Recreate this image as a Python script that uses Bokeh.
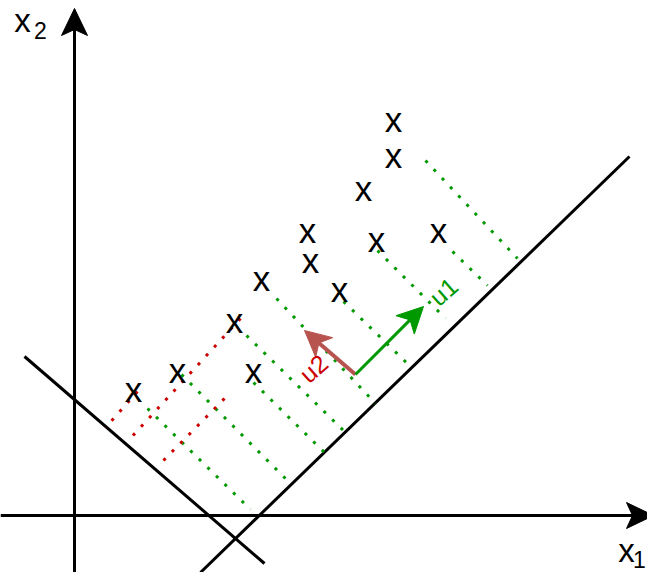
import numpy as np
from bokeh.plotting import figure
from bokeh.models import Range1d
from bokeh.core.properties import value
from bokeh.embed import file_html
from bokeh.resources import INLINE

# ---- data (diagram coordinates, y grows downward) ----
pts_x = [133, 177, 234, 253, 261, 307, 310, 339, 363, 376, 393, 393, 438]
pts_y = [392, 373, 323, 373, 281, 233, 263, 292, 191, 242, 158, 122, 233]

# principal axis line (u1) and perpendicular line (u2)
line1_x = [200, 629]
line1_y = [572, 156]
line2_x = [24, 264]
line2_y = [356, 563]

# coordinate axes
xaxis_x = [0, 640]
xaxis_y = [515, 515]
yaxis_x = [74, 74]
yaxis_y = [590, 20]
xaxis_tip = (653, 515)
yaxis_tip = (74, 8)

# projections onto u1 line (green) and u2 line (red): start -> end
green_x0 = [147, 181, 246, 253, 276, 343, 377, 452, 425]
green_y0 = [408, 374, 335, 382, 298, 301, 250, 251, 160]
green_x1 = [250, 291, 343, 325, 375, 412, 445, 487, 517]
green_y1 = [509, 484, 430, 453, 403, 368, 318, 285, 258]

red_x0 = [137, 240, 224]
red_y0 = [391, 318, 398]
red_x1 = [105, 127, 157]
red_y1 = [427, 441, 466]

# basis vectors
origin = (355, 374)
u1_tip = (423, 306)
u2_tip = (304, 330)

labels_u = ["u1", "u2"]
labels_u_x = [443, 313]
labels_u_y = [291, 368]

# axis labels: main letter and subscript (glyph centres)
axis_lab = ["x", "x"]
axis_lab_x = [22, 626]
axis_lab_y = [23, 553]
axis_sub = ["2", "1"]
axis_sub_x = [40, 639]
axis_sub_y = [30, 559]

GREEN = "#009900"
RED = "#CC0000"
RED_ARROW = "#b85450"
FONT = "Liberation Sans"

p = figure(width=647, height=572, x_range=Range1d(0, 647), y_range=Range1d(572, 0),
           output_backend="svg", toolbar_location=None, min_border=0,
           x_axis_type=None, y_axis_type=None)
p.grid.visible = False
p.outline_line_color = None
p.background_fill_color = "white"
p.border_fill_color = "white"


def head(tip, tail, length=26, half=13, notch=20):
    tip = np.array(tip, float)
    d = tip - np.array(tail, float)
    d /= np.linalg.norm(d)
    n = np.array([-d[1], d[0]])
    base = tip - length * d
    nt = tip - notch * d
    c1 = base + half * n
    c2 = base - half * n
    xs = [tip[0], c1[0], nt[0], c2[0]]
    ys = [tip[1], c1[1], nt[1], c2[1]]
    return xs, ys, nt


# axes
p.line(xaxis_x, xaxis_y, line_color="black", line_width=3)
p.line(yaxis_x, yaxis_y, line_color="black", line_width=3)
hx, hy, _ = head(xaxis_tip, (xaxis_x[0], xaxis_y[0]), 27, 13, 21)
p.patch(hx, hy, fill_color="black", line_color="black", line_width=1)
hx, hy, _ = head(yaxis_tip, (yaxis_x[0], yaxis_y[0]), 27, 13, 21)
p.patch(hx, hy, fill_color="black", line_color="black", line_width=1)

# the two lines
p.line(line1_x, line1_y, line_color="black", line_width=3)
p.line(line2_x, line2_y, line_color="black", line_width=3)

# projections
p.multi_line([[a, b] for a, b in zip(green_x0, green_x1)],
             [[a, b] for a, b in zip(green_y0, green_y1)],
             line_color=GREEN, line_width=3, line_dash="3 9")
p.multi_line([[a, b] for a, b in zip(red_x0, red_x1)],
             [[a, b] for a, b in zip(red_y0, red_y1)],
             line_color=RED, line_width=3, line_dash="3 9")

# basis arrows
hx, hy, nt = head(u2_tip, origin, 26, 13, 19)
p.line([origin[0], nt[0]], [origin[1], nt[1]], line_color=RED_ARROW, line_width=4)
p.patch(hx, hy, fill_color=RED_ARROW, line_color=RED_ARROW, line_width=1)
hx, hy, nt = head(u1_tip, origin, 26, 13, 19)
p.line([origin[0], nt[0]], [origin[1], nt[1]], line_color=GREEN, line_width=3)
p.patch(hx, hy, fill_color=GREEN, line_color=GREEN, line_width=1)

# sample points as "x" characters
p.text(pts_x, pts_y, text=["x"] * len(pts_x), text_font=value(FONT),
       text_font_size="35px", text_align="center", text_baseline="middle",
       y_offset=-3, text_color="black")

# basis labels
p.text([labels_u_x[0]], [labels_u_y[0]], text=[labels_u[0]], text_font=value(FONT),
       text_font_size="25px", text_align="center", text_baseline="middle",
       angle=0.72, text_color=GREEN)
p.text([labels_u_x[1]], [labels_u_y[1]], text=[labels_u[1]], text_font=value(FONT),
       text_font_size="25px", text_align="center", text_baseline="middle",
       angle=0.72, text_color=RED)

# axis labels with subscripts
p.text(axis_lab_x, axis_lab_y, text=axis_lab, text_font=value(FONT),
       text_font_size="33px", text_align="center", text_baseline="middle",
       y_offset=-3, text_color="black")
p.text(axis_sub_x, axis_sub_y, text=axis_sub, text_font=value(FONT),
       text_font_size="23px", text_align="center", text_baseline="middle",
       text_color="black")

open("out.html", "w").write(file_html(p, INLINE))
